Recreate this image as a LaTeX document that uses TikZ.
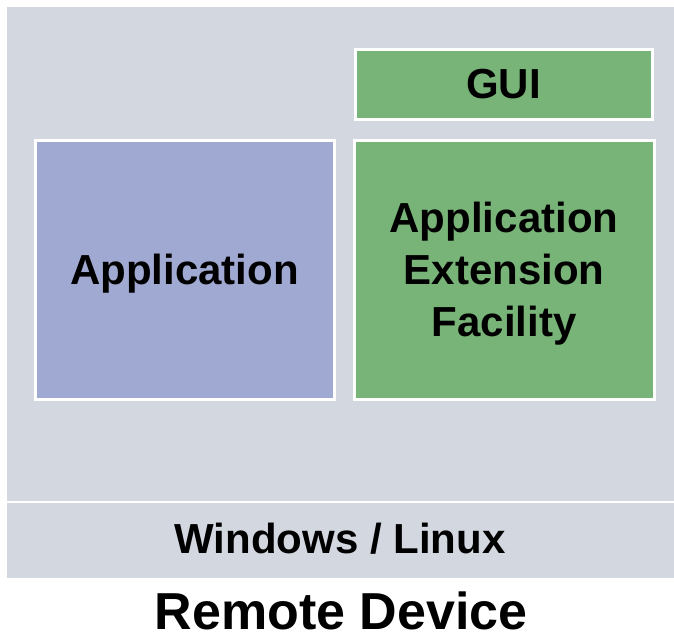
\documentclass[tikz,border=0pt]{standalone}
\usepackage{fontspec}
\setmainfont{Liberation Sans}
\definecolor{bggray}{RGB}{211,215,224}
\definecolor{appblue}{RGB}{160,169,209}
\definecolor{aefgreen}{RGB}{120,180,120}
\begin{document}
\begin{tikzpicture}[x=1pt,y=-1pt,
  box/.style={draw=white,line width=3pt,inner sep=0pt,anchor=north west,text depth=0pt,
    font=\fontsize{42}{52}\selectfont\bfseries,align=center},
  lbl/.style={font=\fontsize{42}{52}\selectfont\bfseries,inner sep=0pt}]
\useasboundingbox (0,0) rectangle (674,638);
\fill[bggray] (7,7) rectangle (674,578);
\draw[white,line width=2pt] (7,502) -- (674,502);
\node[box,fill=appblue,minimum width=299pt,minimum height=259pt] (app) at (33.5,138.5) {Application};
\node[box,fill=aefgreen,minimum width=297pt,minimum height=70pt] (gui) at (353.5,47.5) {GUI};
\node[box,fill=aefgreen,minimum width=300pt,minimum height=259pt] (aef) at (352.5,138.5) {Application\\Extension\\Facility};
\node[lbl] (os) at (340,539) {Windows / Linux};
\node[lbl,font=\fontsize{52}{60}\selectfont\bfseries] (title) at (341,611) {Remote Device};
\end{tikzpicture}
\end{document}
